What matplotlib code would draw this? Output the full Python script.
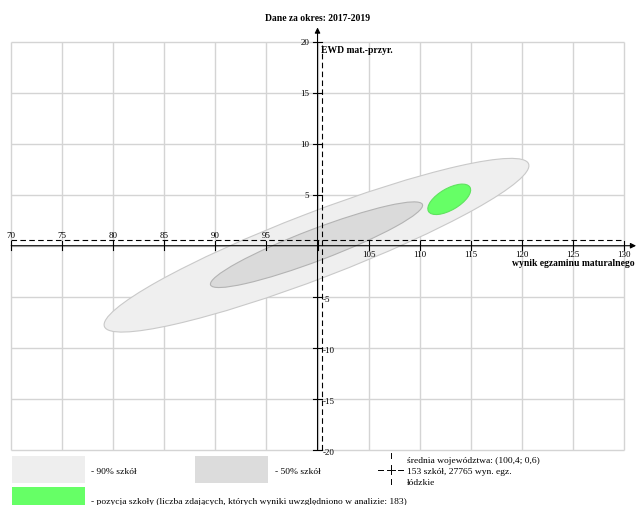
import matplotlib
matplotlib.use("Agg")
import matplotlib.pyplot as plt
from matplotlib.patches import Ellipse, Rectangle
from matplotlib.lines import Line2D

# axis ticks
x_ticks = [70, 75, 80, 85, 90, 95, 100, 105, 110, 115, 120, 125, 130]
y_ticks = [-20, -15, -10, -5, 0, 5, 10, 15, 20]

# origin of the drawn axes and the regional mean (dashed cross)
origin_x, origin_y = 100, 0
mean_x, mean_y = 100.4, 0.6

# ellipses: 90% schools, 50% schools, school position
ell_names = ["90%", "50%", "szkola"]
ell_cx = [99.9, 99.9, 112.9]
ell_cy = [0.05, 0.1, 4.55]
ell_w = [44.5, 22.2, 4.7]
ell_h = [6.4, 3.1, 2.1]
ell_angle = [21.0, 20.8, 30.3]
ell_face = ["#efefef", "#dadada", "#66ff66"]
ell_edge = ["#c9c9c9", "#b3b3b3", "#5fe35f"]

title = "Dane za okres: 2017-2019"
y_label = "EWD mat.-przyr."
x_label = "wynik egzaminu maturalnego"
legend_90 = "- 90% szkół"
legend_50 = "- 50% szkół"
legend_mean = ["średnia województwa: (100,4; 0,6)", "153 szkół, 27765 wyn. egz.", "łódzkie"]
legend_school = "- pozycja szkoły (liczba zdających, których wyniki uwzględniono w analizie: 183)"

plt.rcParams['font.family'] = ['Liberation Serif', 'DejaVu Serif']

W, H = 637, 506
fig = plt.figure(figsize=(W / 100, H / 100), dpi=100)
ax = fig.add_axes([0, 0, 1, 1])
ax.set_xlim(68.90, 131.29)
ax.set_ylim(-25.42, 24.19)
ax.axis('off')


def px(x, y):
    # pixel position in the figure -> figure fraction
    return x / W, 1 - y / H


# grid inside the box
x0, x1 = x_ticks[0], x_ticks[-1]
y0, y1 = y_ticks[0], y_ticks[-1]
ax.vlines(x_ticks, y0, y1, color="#d4d4d4", lw=1, zorder=1)
ax.hlines(y_ticks, x0, x1, color="#d4d4d4", lw=1, zorder=1)

# ellipses
for i in range(len(ell_names)):
    ax.add_patch(Ellipse((ell_cx[i], ell_cy[i]), ell_w[i], ell_h[i], angle=ell_angle[i],
                         facecolor=ell_face[i], edgecolor=ell_edge[i], lw=0.8, zorder=2))

# dashed mean lines
ax.hlines(mean_y, x0, x1, color="black", lw=0.8, linestyles=(0, (5, 3)), zorder=3)
ax.vlines(mean_x, y0, y1 - 0.3, color="black", lw=0.8, linestyles=(0, (5, 3)), zorder=3)

# main axes with arrows
ax.annotate("", xy=(131.2, origin_y), xytext=(x0, origin_y),
            arrowprops=dict(arrowstyle="-|>", color="black", lw=0.8,
                            mutation_scale=8, shrinkA=0, shrinkB=0), zorder=4)
ax.annotate("", xy=(origin_x, 21.4), xytext=(origin_x, y0),
            arrowprops=dict(arrowstyle="-|>", color="black", lw=0.8,
                            mutation_scale=8, shrinkA=0, shrinkB=0), zorder=4)

# tick marks and labels
for xt in x_ticks:
    ax.plot([xt, xt], [origin_y - 0.45, origin_y + 0.45], color="black", lw=0.8, zorder=4)
    if xt < origin_x:
        ax.text(xt, 1.05, str(xt), ha="center", va="center", fontsize=6.5, zorder=5)
    elif xt > origin_x:
        ax.text(xt, -0.85, str(xt), ha="center", va="center", fontsize=6.5, zorder=5)
for yt in y_ticks:
    if yt == 0:
        continue
    ax.plot([origin_x - 0.4, origin_x + 0.4], [yt, yt], color="black", lw=0.8, zorder=4)
    if yt > 0:
        ax.text(origin_x - 0.8, yt, str(yt), ha="right", va="center", fontsize=6.5, zorder=5)
    else:
        ax.text(origin_x + 0.55, yt - 0.25, str(yt), ha="left", va="center", fontsize=6.5, zorder=5)

# titles
fig.text(*px(318, 18.5), title, ha="center", va="center", fontsize=6.9, fontweight="bold")
fig.text(*px(321, 50.5), y_label, ha="left", va="center", fontsize=6.9, fontweight="bold")
fig.text(*px(635, 264), x_label, ha="right", va="center", fontsize=6.9, fontweight="bold")

# legend
def swatch(xl, yt, w, h, color):
    xf, yf = px(xl, yt + h)
    fig.patches.append(Rectangle((xf, yf), w / W, h / H, transform=fig.transFigure,
                                 facecolor=color, edgecolor="none"))

swatch(12, 457, 73, 27, "#eeeeee")
swatch(195, 457, 73, 27, "#dcdcdc")
swatch(12, 488, 73, 20, ell_face[2])
fig.text(*px(91, 472.5), legend_90, ha="left", va="center", fontsize=6.8)
fig.text(*px(275, 472.5), legend_50, ha="left", va="center", fontsize=6.8)
fig.text(*px(91, 502.5), legend_school, ha="left", va="center", fontsize=6.8)

# mean marker in the legend
for (xa, xb) in [(378, 383), (387, 395), (398, 403)]:
    fig.add_artist(Line2D([xa / W, xb / W], [1 - 470.5 / H] * 2, transform=fig.transFigure,
                          color="black", lw=0.7))
for (ya, yb) in [(454, 459), (466, 475), (480, 485)]:
    fig.add_artist(Line2D([391 / W] * 2, [1 - ya / H, 1 - yb / H], transform=fig.transFigure,
                          color="black", lw=0.7))
for i, line in enumerate(legend_mean):
    fig.text(*px(407, 461.5 + 11 * i), line, ha="left", va="center", fontsize=6.8)

plt.savefig("out.png", dpi=100)
